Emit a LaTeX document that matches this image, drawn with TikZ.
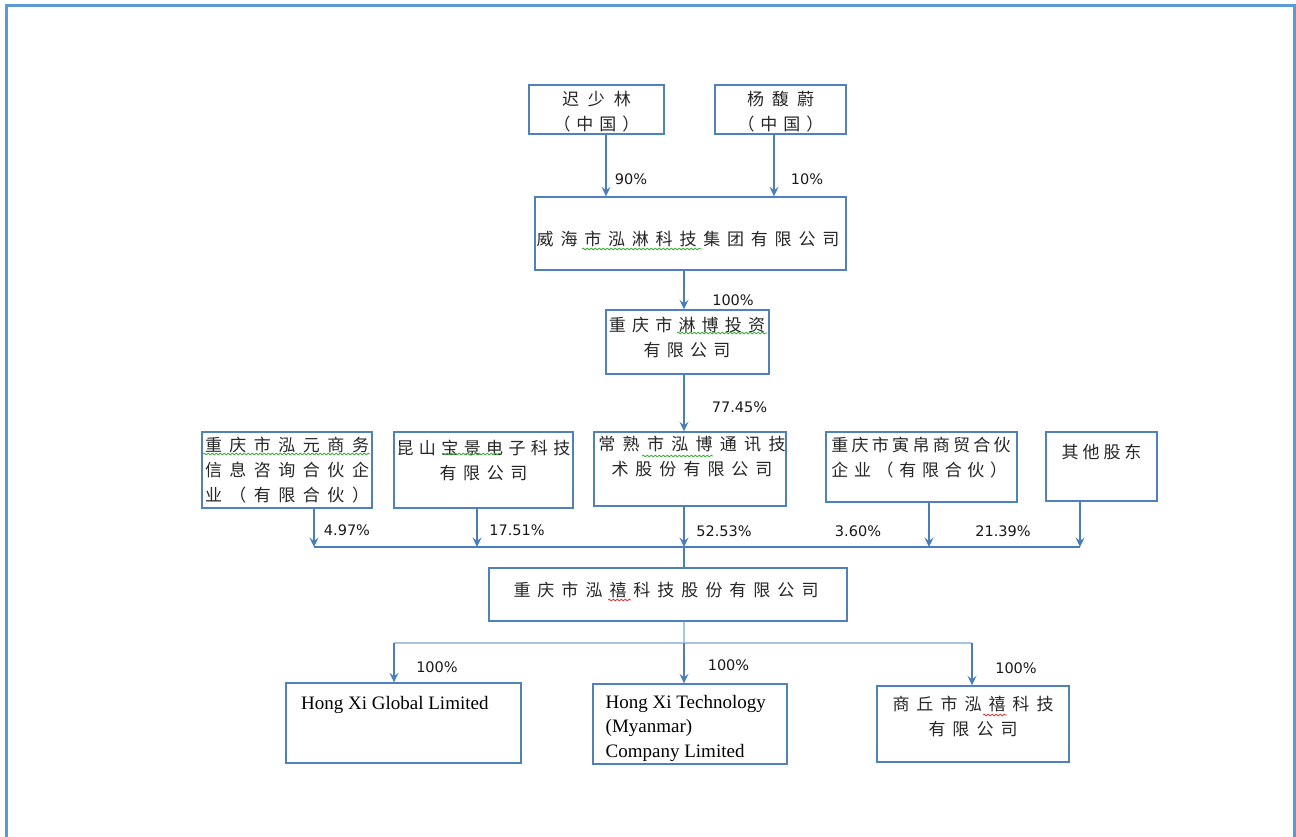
\documentclass[tikz,border=0pt]{standalone}
\usepackage{fontspec}
\setmainfont{Liberation Serif}
\newfontfamily\cjkfont{Noto Sans CJK SC}
\newfontfamily\pctfont{DejaVu Sans}
\usetikzlibrary{arrows.meta,decorations.pathmorphing,fit}
\definecolor{boxblue}{HTML}{4F81BD}
\definecolor{linkblue}{HTML}{4A7EBB}
\definecolor{softblue}{HTML}{A9C3E2}
\definecolor{framecol}{HTML}{5B9BD5}
\definecolor{inkgray}{HTML}{262626}
\definecolor{spellgreen}{HTML}{3FAF3F}
\definecolor{spellred}{HTML}{D83A3A}
\newdimen\cjkgap \cjkgap=8pt
\def\spc#1{\spcaux#1\relax}
\def\spcaux#1{#1\spcnext}
\def\spcnext#1{\ifx\relax#1\else\kern\cjkgap#1\expandafter\spcnext\fi}
\newcommand\spcg[2]{{\cjkgap=#1\relax\spc{#2}}}
\begin{document}
\begin{tikzpicture}[x=1pt,y=-1pt,
  orgbox/.style={draw=boxblue, line width=1.4pt, inner sep=0pt},
  cn/.style={font=\cjkfont\fontsize{17}{25}\selectfont, align=center, inner sep=0pt, text=inkgray},
  entext/.style={font=\fontsize{19}{24.5}\selectfont, align=left, inner sep=0pt, anchor=base west, text=black},
  pct/.style={font=\pctfont\fontsize{14.5}{16}\selectfont, inner sep=0pt, text=black!90},
  conn/.style={draw=linkblue, line width=1.3pt},
  arr/.style={conn, -{Stealth[length=9.5pt,width=9pt,inset=3.5pt]}},
  soft/.style={draw=softblue, line width=1.8pt},
  spellg/.style={draw=spellgreen, line width=0.8pt, decorate, decoration={snake, amplitude=0.9pt, segment length=4pt}},
  spellr/.style={draw=spellred, line width=0.8pt, decorate, decoration={snake, amplitude=0.9pt, segment length=4pt}}
]
\useasboundingbox (0,0) rectangle (1296,836);
\clip (0,0) rectangle (1296,836);
\draw[framecol, line width=3pt] (6,860) -- (6,5) -- (1294,5) -- (1294,860);

% boxes
\node[orgbox, fit={(529,85) (664,134)}] (chi) {};
\node[cn] (chit) at (596.5,112) {\spcg{9pt}{迟少林}\\\spcg{6pt}{（中国）}};
\node[orgbox, fit={(715,85) (846,134)}] (yang) {};
\node[cn] (yangt) at (780.5,112) {\spcg{8pt}{杨馥蔚}\\\spcg{6pt}{（中国）}};
\node[orgbox, fit={(535,197) (846,270)}] (wh) {};
\node[cn] (wht) at (688,239) {\spcg{6.8pt}{威海市泓淋科技集团有限公司}};
\node[orgbox, fit={(606,310) (769,374)}] (lb) {};
\node[cn] (lbt) at (687,337) {\spcg{6.2pt}{重庆市淋博投资}\\\spcg{6.3pt}{有限公司}};
\node[orgbox, fit={(202,432) (372,508)}] (hy) {};
\node[cn] (hyt) at (287,470) {\spcg{7.5pt}{重庆市泓元商务}\\\spcg{7.5pt}{信息咨询合伙企}\\\spcg{7.5pt}{业（有限合伙）}};
\node[orgbox, fit={(394,432) (573,508)}] (ks) {};
\node[cn] (kst) at (483.5,460) {\spcg{5.4pt}{昆山宝景电子科技}\\\spcg{6.6pt}{有限公司}};
\node[orgbox, fit={(594,432) (786,506)}] (cs) {};
\node[cn] (cst) at (692,456) {\spcg{7.3pt}{常熟市泓博通讯技}\\\spcg{7pt}{术股份有限公司}};
\node[orgbox, fit={(826,432) (1017,502)}] (ym) {};
\node[cn, align=left] (ymt) at (921,457.5) {\spcg{3.3pt}{重庆市寅帛商贸合伙}\\\spcg{5.7pt}{企业（有限合伙）}};
\node[orgbox, fit={(1046,432) (1157,501)}] (qt) {};
\node[cn] (qtt) at (1101.5,452) {\spcg{4pt}{其他股东}};
\node[orgbox, fit={(489,568) (847,621)}] (hx) {};
\node[cn] (hxt) at (666,590) {\spcg{7pt}{重庆市泓禧科技股份有限公司}};
\node[orgbox, fit={(286,683) (521,763)}] (gl) {};
\node[entext] (glt) at (301,709.5) {Hong Xi Global Limited};
\node[orgbox, fit={(593,684) (787,764)}] (tm) {};
\node[entext] (tmt) at (605.5,757.3) {Hong Xi Technology\\(Myanmar)\\Company Limited};
\node[orgbox, fit={(877,686) (1069,762)}] (sq) {};
\node[cn] (sqt) at (973,716.5) {\spcg{7pt}{商丘市泓禧科技}\\\spcg{7pt}{有限公司}};

% columns and bus points
\coordinate (colA) at (606,0);
\coordinate (colB) at (774,0);
\coordinate (colM) at (684,0);
\coordinate (busE) at (314,547);
\coordinate (busF) at (477,547);
\coordinate (busG) at (684,547);
\coordinate (busH) at (929,547);
\coordinate (busI) at (1080,547);
\coordinate (lowL) at (394,643);
\coordinate (lowG) at (684,643);
\coordinate (lowR) at (972,643);

% connectors
\draw[arr] (chi.south -| colA) -- (wh.north -| colA);
\draw[arr] (yang.south -| colB) -- (wh.north -| colB);
\draw[arr] (wh.south -| colM) -- (lb.north -| colM);
\draw[arr] (lb.south -| colM) -- (cs.north -| colM);
\draw[conn] (busE) -- (busI);
\draw[arr] (hy.south -| busE) -- (busE);
\draw[arr] (ks.south -| busF) -- (busF);
\draw[arr] (cs.south -| busG) -- (busG);
\draw[arr] (ym.south -| busH) -- (busH);
\draw[arr] (qt.south -| busI) -- (busI);
\draw[conn] (busG) -- (hx.north -| busG);
\draw[soft] (hx.south -| lowG) -- (lowG);
\draw[soft] (lowL) -- (lowR);
\draw[arr] (lowL) -- (gl.north -| lowL);
\draw[arr] (lowG) -- (tm.north -| lowG);
\draw[arr] (lowR) -- (sq.north -| lowR);

% percentages
\node[pct] (p90) at (631,179) {90\%};
\node[pct] (p10) at (807,179) {10\%};
\node[pct] (p100a) at (733,300) {100\%};
\node[pct] (p7745) at (739.5,407) {77.45\%};
\node[pct] (p497) at (347,530) {4.97\%};
\node[pct] (p1751) at (517,530) {17.51\%};
\node[pct] (p5253) at (724,531) {52.53\%};
\node[pct] (p360) at (858,531) {3.60\%};
\node[pct] (p2139) at (1003,531) {21.39\%};
\node[pct] (p100b) at (437,667) {100\%};
\node[pct] (p100c) at (728.5,665) {100\%};
\node[pct] (p100d) at (1016,668) {100\%};

% spell-check underlines
\draw[spellg] (582,249) -- (702,249);
\draw[spellg] (677,333) -- (767,333);
\draw[spellg] (203,454) -- (370,454);
\draw[spellg] (442,454) -- (502,454);
\draw[spellg] (642,456) -- (713,456);
\draw[spellr] (608,600) -- (631,600);
\draw[spellr] (983,715) -- (1007,715);
\end{tikzpicture}
\end{document}
